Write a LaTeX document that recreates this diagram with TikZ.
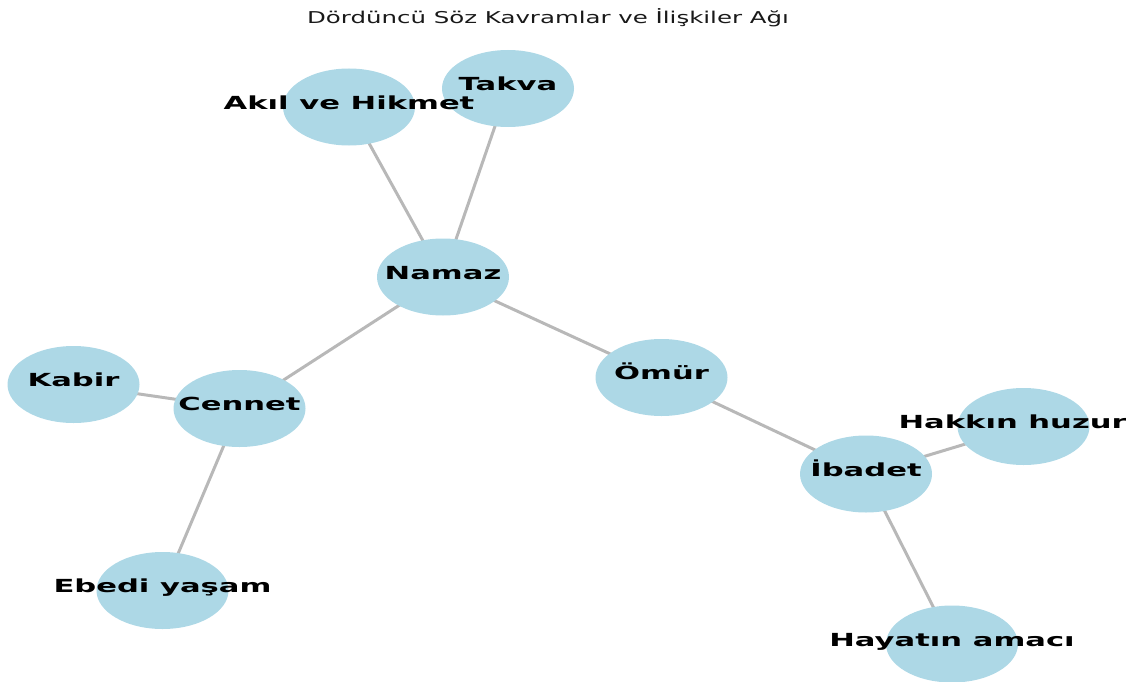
\documentclass[tikz,border=0pt]{standalone}
\usepackage{fontspec}
\setmainfont{DejaVu Sans}
\usetikzlibrary{shapes.geometric}
\definecolor{nodeblue}{HTML}{ADD8E6}
\definecolor{edgegray}{HTML}{B8B8B8}
\pgfdeclarelayer{bg}
\pgfsetlayers{bg,main}
\newcommand{\wide}[1]{\scalebox{1.7}[1]{#1}}
\newcommand{\widettl}[1]{\scalebox{1.5}[1]{#1}}
\begin{document}
\begin{tikzpicture}[x=1pt,y=-1pt,
  bubble/.style={ellipse, fill=nodeblue, minimum width=132pt, minimum height=77pt, inner sep=0pt},
  lbl/.style={font=\fontsize{18}{21}\selectfont\bfseries, text height=0.74em, text depth=0.26em, inner sep=0pt},
  link/.style={draw=edgegray, line width=3pt},
  ttl/.style={font=\fontsize{16.3}{19}\selectfont, inner sep=0pt, text=black!90}]
\useasboundingbox (0,0) rectangle (1126,682);
\clip (0,0) rectangle (1126,682);
% bubbles
\node[bubble] (akil)   at (349,107)   {};
\node[bubble] (takva)  at (508,88.5)  {};
\node[bubble] (namaz)  at (443,277)   {};
\node[bubble] (kabir)  at (73.5,384.5){};
\node[bubble] (cennet) at (239.5,408.5){};
\node[bubble] (omur)   at (661.5,377.5){};
\node[bubble] (hakkin) at (1023.5,426.5){};
\node[bubble] (ibadet) at (866,474)   {};
\node[bubble] (ebedi)  at (162.5,590.5){};
\node[bubble] (hayat)  at (952,644)   {};
% edges
\begin{pgfonlayer}{bg}
\draw[link] (akil.center) -- (namaz.center);
\draw[link] (takva.center) -- (namaz.center);
\draw[link] (namaz.center) -- (cennet.center);
\draw[link] (namaz.center) -- (omur.center);
\draw[link] (cennet.center) -- (kabir.center);
\draw[link] (cennet.center) -- (ebedi.center);
\draw[link] (omur.center) -- (ibadet.center);
\draw[link] (ibadet.center) -- (hakkin.center);
\draw[link] (ibadet.center) -- (hayat.center);
\end{pgfonlayer}
% labels
\node[lbl] (takvaT)  at (takva)  {\wide{Takva}};
\node[lbl] (akilT)   at (akil)   {\wide{Akıl ve Hikmet}};
\node[lbl] (namazT)  at (namaz)  {\wide{Namaz}};
\node[lbl] (kabirT)  at (kabir)  {\wide{Kabir}};
\node[lbl] (cennetT) at (cennet) {\wide{Cennet}};
\node[lbl] (omurT)   at (omur)   {\wide{Ömür}};
\node[lbl] (hakkinT) at (hakkin) {\wide{Hakkın huzuru}};
\node[lbl] (ibadetT) at (ibadet) {\wide{İbadet}};
\node[lbl] (ebediT)  at (ebedi)  {\wide{Ebedi yaşam}};
\node[lbl] (hayatT)  at (hayat)  {\wide{Hayatın amacı}};
% title
\node[ttl, anchor=base] (title) at (548,24) {\widettl{Dördüncü Söz Kavramlar ve İlişkiler Ağı}};
\end{tikzpicture}
\end{document}
